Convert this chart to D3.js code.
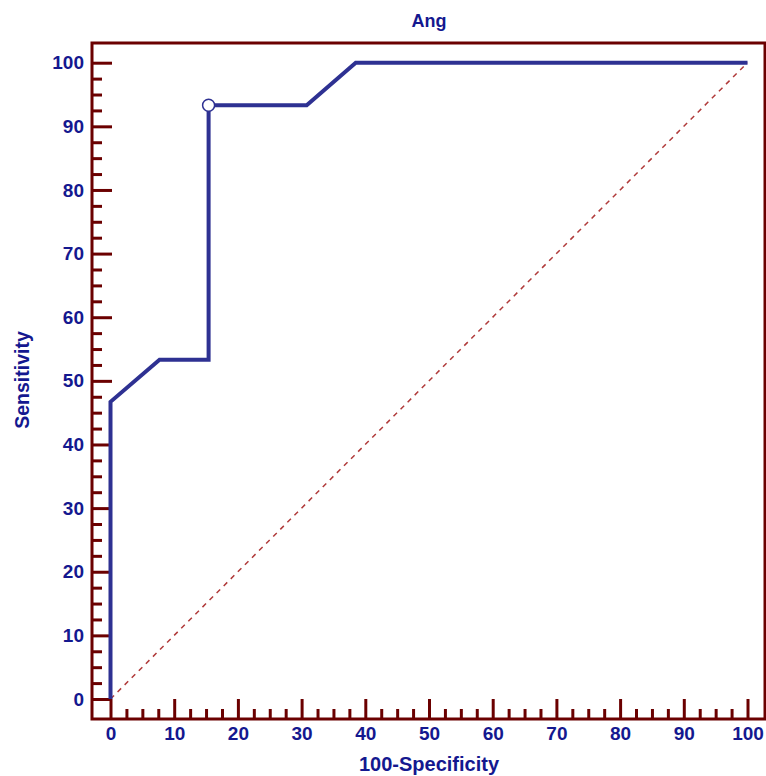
<!DOCTYPE html>
<html>
<head>
<meta charset="utf-8">
<script src="https://cdn.jsdelivr.net/npm/d3@7"></script>
<style>
  body { margin: 0; background: #fff; }
  svg { display: block; }
</style>
</head>
<body>
<script>
var w = 766;
var h = 776;

// ROC points (100-Specificity, Sensitivity)
var fpr = [0, 0, 7.7, 15.4, 15.4, 30.8, 38.5, 100];
var sens = [0, 46.7, 53.3, 53.3, 93.3, 93.3, 100, 100];
var cutIndex = 4; // open circle
var majorTicks = [0, 10, 20, 30, 40, 50, 60, 70, 80, 90, 100];
var minorTicks = d3.range(0, 100.01, 2.5).filter(function(d) { return d % 10 !== 0; });

var frame = {left: 92, top: 43, right: 765, bottom: 719};
var frameColor = '#6b0000';
var textColor = '#14188f';
var lineColor = '#2e3192';
var font = 'Arial, "Liberation Sans", sans-serif';

var x = d3.scaleLinear().domain([0, 100]).range([110.5, 747.5]);
var y = d3.scaleLinear().domain([0, 100]).range([699, 62.7]);

var svg = d3.select('body').append('svg').attr('width', w).attr('height', h);

// frame
svg.append('rect')
  .attr('x', frame.left)
  .attr('y', frame.top)
  .attr('width', frame.right - frame.left)
  .attr('height', frame.bottom - frame.top)
  .attr('fill', 'none')
  .attr('stroke', frameColor)
  .attr('stroke-width', 3);

// diagonal reference line
svg.append('line')
  .attr('x1', x(0)).attr('y1', y(0))
  .attr('x2', x(100)).attr('y2', y(100))
  .attr('stroke', '#b03a3a')
  .attr('stroke-width', 1.5)
  .attr('stroke-dasharray', '5,5');

// axes
function styleAxis(g) {
  g.select('.domain').remove();
  g.selectAll('.tick line').attr('stroke', frameColor).attr('stroke-width', 3);
  g.selectAll('.tick text')
    .attr('fill', textColor)
    .attr('font-family', font)
    .attr('font-weight', 'bold')
    .attr('font-size', 19);
}

svg.append('g')
  .attr('transform', 'translate(' + frame.left + ',0)')
  .call(d3.axisLeft(y).tickValues(majorTicks).tickSize(-20).tickPadding(8))
  .call(styleAxis);
svg.append('g')
  .attr('transform', 'translate(' + frame.left + ',0)')
  .call(d3.axisLeft(y).tickValues(minorTicks).tickSize(-10).tickFormat(''))
  .call(styleAxis);

svg.append('g')
  .attr('transform', 'translate(0,' + frame.bottom + ')')
  .call(d3.axisBottom(x).tickValues(majorTicks).tickSize(-20).tickPadding(8))
  .call(styleAxis);
svg.append('g')
  .attr('transform', 'translate(0,' + frame.bottom + ')')
  .call(d3.axisBottom(x).tickValues(minorTicks).tickSize(-10).tickFormat(''))
  .call(styleAxis);

// ROC curve
var line = d3.line()
  .x(function(d, i) { return x(fpr[i]); })
  .y(function(d, i) { return y(sens[i]); });

svg.append('path')
  .datum(fpr)
  .attr('d', line)
  .attr('fill', 'none')
  .attr('stroke', lineColor)
  .attr('stroke-width', 4)
  .attr('stroke-linejoin', 'miter');

svg.append('circle')
  .attr('cx', x(fpr[cutIndex]))
  .attr('cy', y(sens[cutIndex]))
  .attr('r', 6)
  .attr('fill', '#fff')
  .attr('stroke', lineColor)
  .attr('stroke-width', 1.5);

// titles
svg.append('text')
  .text('Ang')
  .attr('x', 429).attr('y', 27)
  .attr('text-anchor', 'middle')
  .attr('font-family', font).attr('font-weight', 'bold').attr('font-size', 18)
  .attr('fill', textColor);

svg.append('text')
  .text('100-Specificity')
  .attr('x', 429).attr('y', 771)
  .attr('text-anchor', 'middle')
  .attr('font-family', font).attr('font-weight', 'bold').attr('font-size', 20)
  .attr('fill', textColor);

svg.append('text')
  .text('Sensitivity')
  .attr('transform', 'translate(29,380) rotate(-90)')
  .attr('text-anchor', 'middle')
  .attr('font-family', font).attr('font-weight', 'bold').attr('font-size', 19.5)
  .attr('fill', textColor);
</script>
</body>
</html>
